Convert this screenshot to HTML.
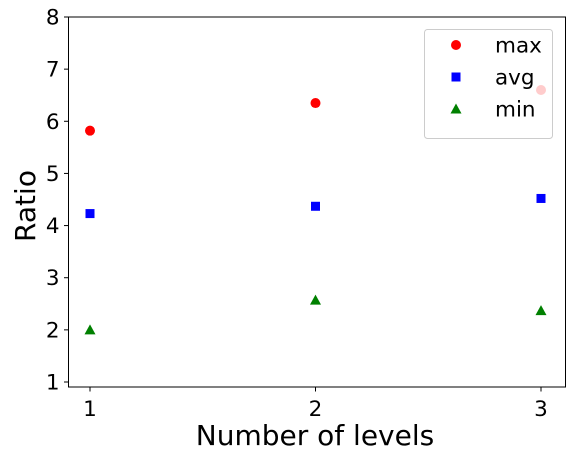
<!DOCTYPE html>
<html><head><meta charset="utf-8"><style>
body{margin:0;background:#fff}
svg text{font-family:"DejaVu Sans","Liberation Sans",sans-serif;fill:#000}
</style></head><body>
<svg id="chart" width="577" height="460" xmlns="http://www.w3.org/2000/svg">
<g id="plot"></g>
</svg>
<script>
const categories=[1,2,3];
const maxVals=[5.82,6.35,6.6];
const avgVals=[4.23,4.37,4.52];
const minVals=[2.0,2.57,2.37];
const yTicks=[1,2,3,4,5,6,7,8];
const xTicks=[1,2,3];
const L=68.5,R=565.5,T=17,B=387;
function xs(v){return 90+(v-1)*(541-90)/2;}
function ys(v){return 17+(8-v)*(382-17)/7;}
const NS="http://www.w3.org/2000/svg";
const g=document.getElementById('plot');
function el(t,a){const e=document.createElementNS(NS,t);for(const k in a)e.setAttribute(k,a[k]);g.appendChild(e);return e;}
let e=el('rect',{x:L,y:T,width:R-L,height:B-T,fill:'none',stroke:'#000','stroke-width':1});


yTicks.forEach(v=>{
 el('line',{x1:L-4.5,x2:L,y1:ys(v),y2:ys(v),stroke:'#000'});
 const t=el('text',{x:L-9,y:ys(v)+7.5,'text-anchor':'end','font-size':21.5});t.textContent=v;
 
 
});
xTicks.forEach(v=>{
 el('line',{x1:xs(v),x2:xs(v),y1:B,y2:B+4.5,stroke:'#000'});
 const t=el('text',{x:xs(v),y:B+29,'text-anchor':'middle','font-size':21.5});t.textContent=v;
 
 
});
let t=el('text',{x:315,y:445,'text-anchor':'middle','font-size':28});t.textContent='Number of levels';


t=el('text',{x:0,y:0,'text-anchor':'middle','font-size':28,transform:'translate(35,206) rotate(-90)'});t.textContent='Ratio';


function circ(x,y){return el('circle',{cx:x,cy:y,r:5,fill:'red'});}
function sq(x,y){return el('rect',{x:x-4.5,y:y-4.5,width:9,height:9,fill:'blue'});}
function tri(x,y){return el('polygon',{points:`${x},${y-5.5} ${x+5.5},${y+4.5} ${x-5.5},${y+4.5}`,fill:'green'});}
categories.forEach((c,i)=>{
 let m=circ(xs(c),ys(maxVals[i]));
 m=sq(xs(c),ys(avgVals[i]));
 m=tri(xs(c),ys(minVals[i]));
});
const lg=el('rect',{x:424.5,y:29.5,width:128,height:109,rx:3,fill:'rgba(255,255,255,0.8)',stroke:'#ccc'});


[['max',circ,45],['avg',sq,77],['min',tri,109]].forEach(([n,f,y])=>{
 f(456,y);
 const tt=el('text',{x:495,y:y+7.5,'font-size':21.5});tt.textContent=n;
 
 
});
</script>
</body></html>
